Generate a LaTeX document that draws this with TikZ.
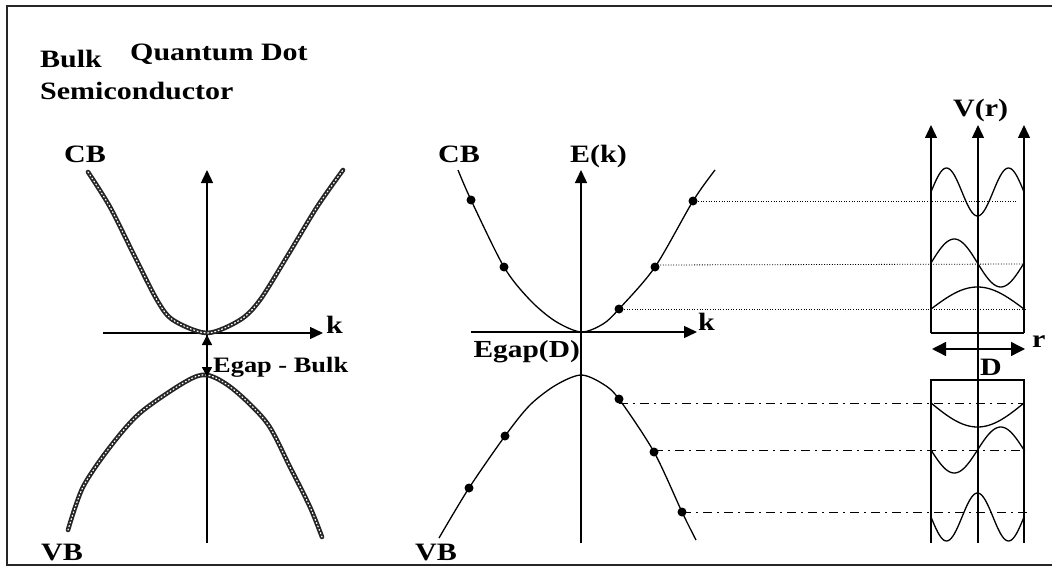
\documentclass[tikz,border=0pt]{standalone}
\usepackage{fontspec}
\setmainfont{Liberation Serif}[FakeStretch=1.2]
\usetikzlibrary{arrows.meta}

\begin{document}
\begin{tikzpicture}[
    x=1pt, y=-1pt,
    lbl/.style={font=\fontsize{25}{28}\selectfont\bfseries, inner sep=0pt, anchor=base west},
    gaplbl/.style={lbl, font=\fontsize{22}{26}\selectfont\bfseries},
    axis/.style={line width=1.4pt, -{Triangle[length=13pt,width=12pt]}},
    band/.style={line width=1.3pt},
    rough/.style={line width=4.6pt, black!85, line cap=round,
      postaction={draw=white, line width=1.2pt, dash pattern=on 1pt off 2.6pt}},
    lvl/.style={line width=0.8pt, dash pattern=on 1pt off 1.6pt},
    lvldash/.style={line width=0.8pt, dash pattern=on 9pt off 5pt on 2pt off 5pt},
    wave/.style={line width=1.3pt, domain=0:1, samples=60}
  ]
  \useasboundingbox (0,0) rectangle (1052,567);
  \draw[line width=1.5pt, black!85] (1052,6) -- (7,6) -- (7,565) -- (1052,565);

  % bulk semiconductor
  \node[lbl] (bulk) at (40,68) {Bulk};
  \node[lbl] (semi) at (40,100) {Semiconductor};
  \coordinate (bo) at (207,333);
  \draw[axis] (207,543) -- (207,170);
  \draw[axis] (103,333) -- (323,333);
  \node[lbl] (bk) at (326,333) {k};
  \draw[rough] plot[smooth] coordinates {(88,172) (110,207) (134,255) (157,300) (173,320)
    (207,333) (240,320) (260,300) (288,255) (317,207) (343,170)};
  \draw[rough] plot[smooth] coordinates {(68,530) (83,487) (110,447) (140,413) (185,382)
    (207,375) (233,389) (267,423) (290,467) (310,507) (322,537)};
  \draw[line width=1.4pt, {Triangle[length=10pt,width=10pt]}-{Triangle[length=10pt,width=10pt]}]
    (207,335) -- (207,377);
  \node[gaplbl] (bgap) at (213,372) {Egap - Bulk};
  \node[lbl] (bcb) at (64,163) {CB};
  \node[lbl] (bvb) at (41,560) {VB};

  % quantum dot
  \node[lbl] (qd) at (130,61) {Quantum Dot};
  \coordinate (qo) at (581,332);
  \draw[axis] (581,543) -- (581,170);
  \draw[axis] (471,332) -- (697,332);
  \node[lbl] (qk) at (698,330) {k};
  \node[lbl] (ek) at (570,163) {E(k)};
  \node[lbl] (qcb) at (438,162) {CB};
  \node[lbl] (qvb) at (415,560) {VB};
  \node[lbl, font=\fontsize{24.5}{28}\selectfont\bfseries, anchor=base east] (qgap) at (580,357) {Egap(D)};
  \draw[band] plot[smooth] coordinates {(458,170) (471,200) (504,267) (530,300) (555,321)
    (581,332) (603,324) (619,309) (655,267) (693,201) (715,170)};
  \draw[band] plot[smooth] coordinates {(439,538) (469,488) (505,436) (530,405) (556,385)
    (581,375) (603,384) (619,399) (654,452) (682,512) (696,540)};
  \foreach \p in {(471,200),(504,267),(619,309),(655,267),(693,201),
                  (469,488),(505,436),(619,399),(654,452),(682,512)}
    \fill \p circle (4.5pt);

  % levels
  \draw[lvl] (693,201) -- (1018,201);
  \draw[lvl] (655,265) -- (1025,264);
  \draw[lvl] (619,309) -- (1025,309);
  \draw[lvldash] (619,403) -- (1025,403);
  \draw[lvldash] (654,450) -- (1025,450);
  \draw[lvldash] (682,512) -- (1027,512);

  % potential well
  \node[lbl] (vr) at (953,117) {V(r)};
  \draw[axis] (931,333) -- (931,125);
  \draw[axis] (978,543) -- (978,125);
  \draw[axis] (1024,333) -- (1024,125);
  \draw[line width=1.4pt] (931,333) -- (1024,333);
  \draw[line width=1.4pt] (931,543) -- (931,380) -- (1024,380) -- (1024,543);
  \draw[line width=1.4pt, {Triangle[length=14pt,width=14pt]}-{Triangle[length=14pt,width=14pt]}]
    (932,349) -- (1025,349);
  \node[lbl] (rr) at (1032,347) {r};
  \node[lbl] (dd) at (980,375) {D};

  \draw[wave] plot ({931+93*\x},{309-22*sin(180*\x)});
  \draw[wave] plot ({931+93*\x},{263-24*sin(360*\x)});
  \draw[wave] plot ({931+93*\x},{192-24*sin(540*\x)});
  \draw[wave] plot ({931+93*\x},{403+24*sin(180*\x)});
  \draw[wave] plot ({931+93*\x},{450+23*sin(360*\x)});
  \draw[wave] plot ({931+93*\x},{517+24*sin(540*\x)});
\end{tikzpicture}
\end{document}
